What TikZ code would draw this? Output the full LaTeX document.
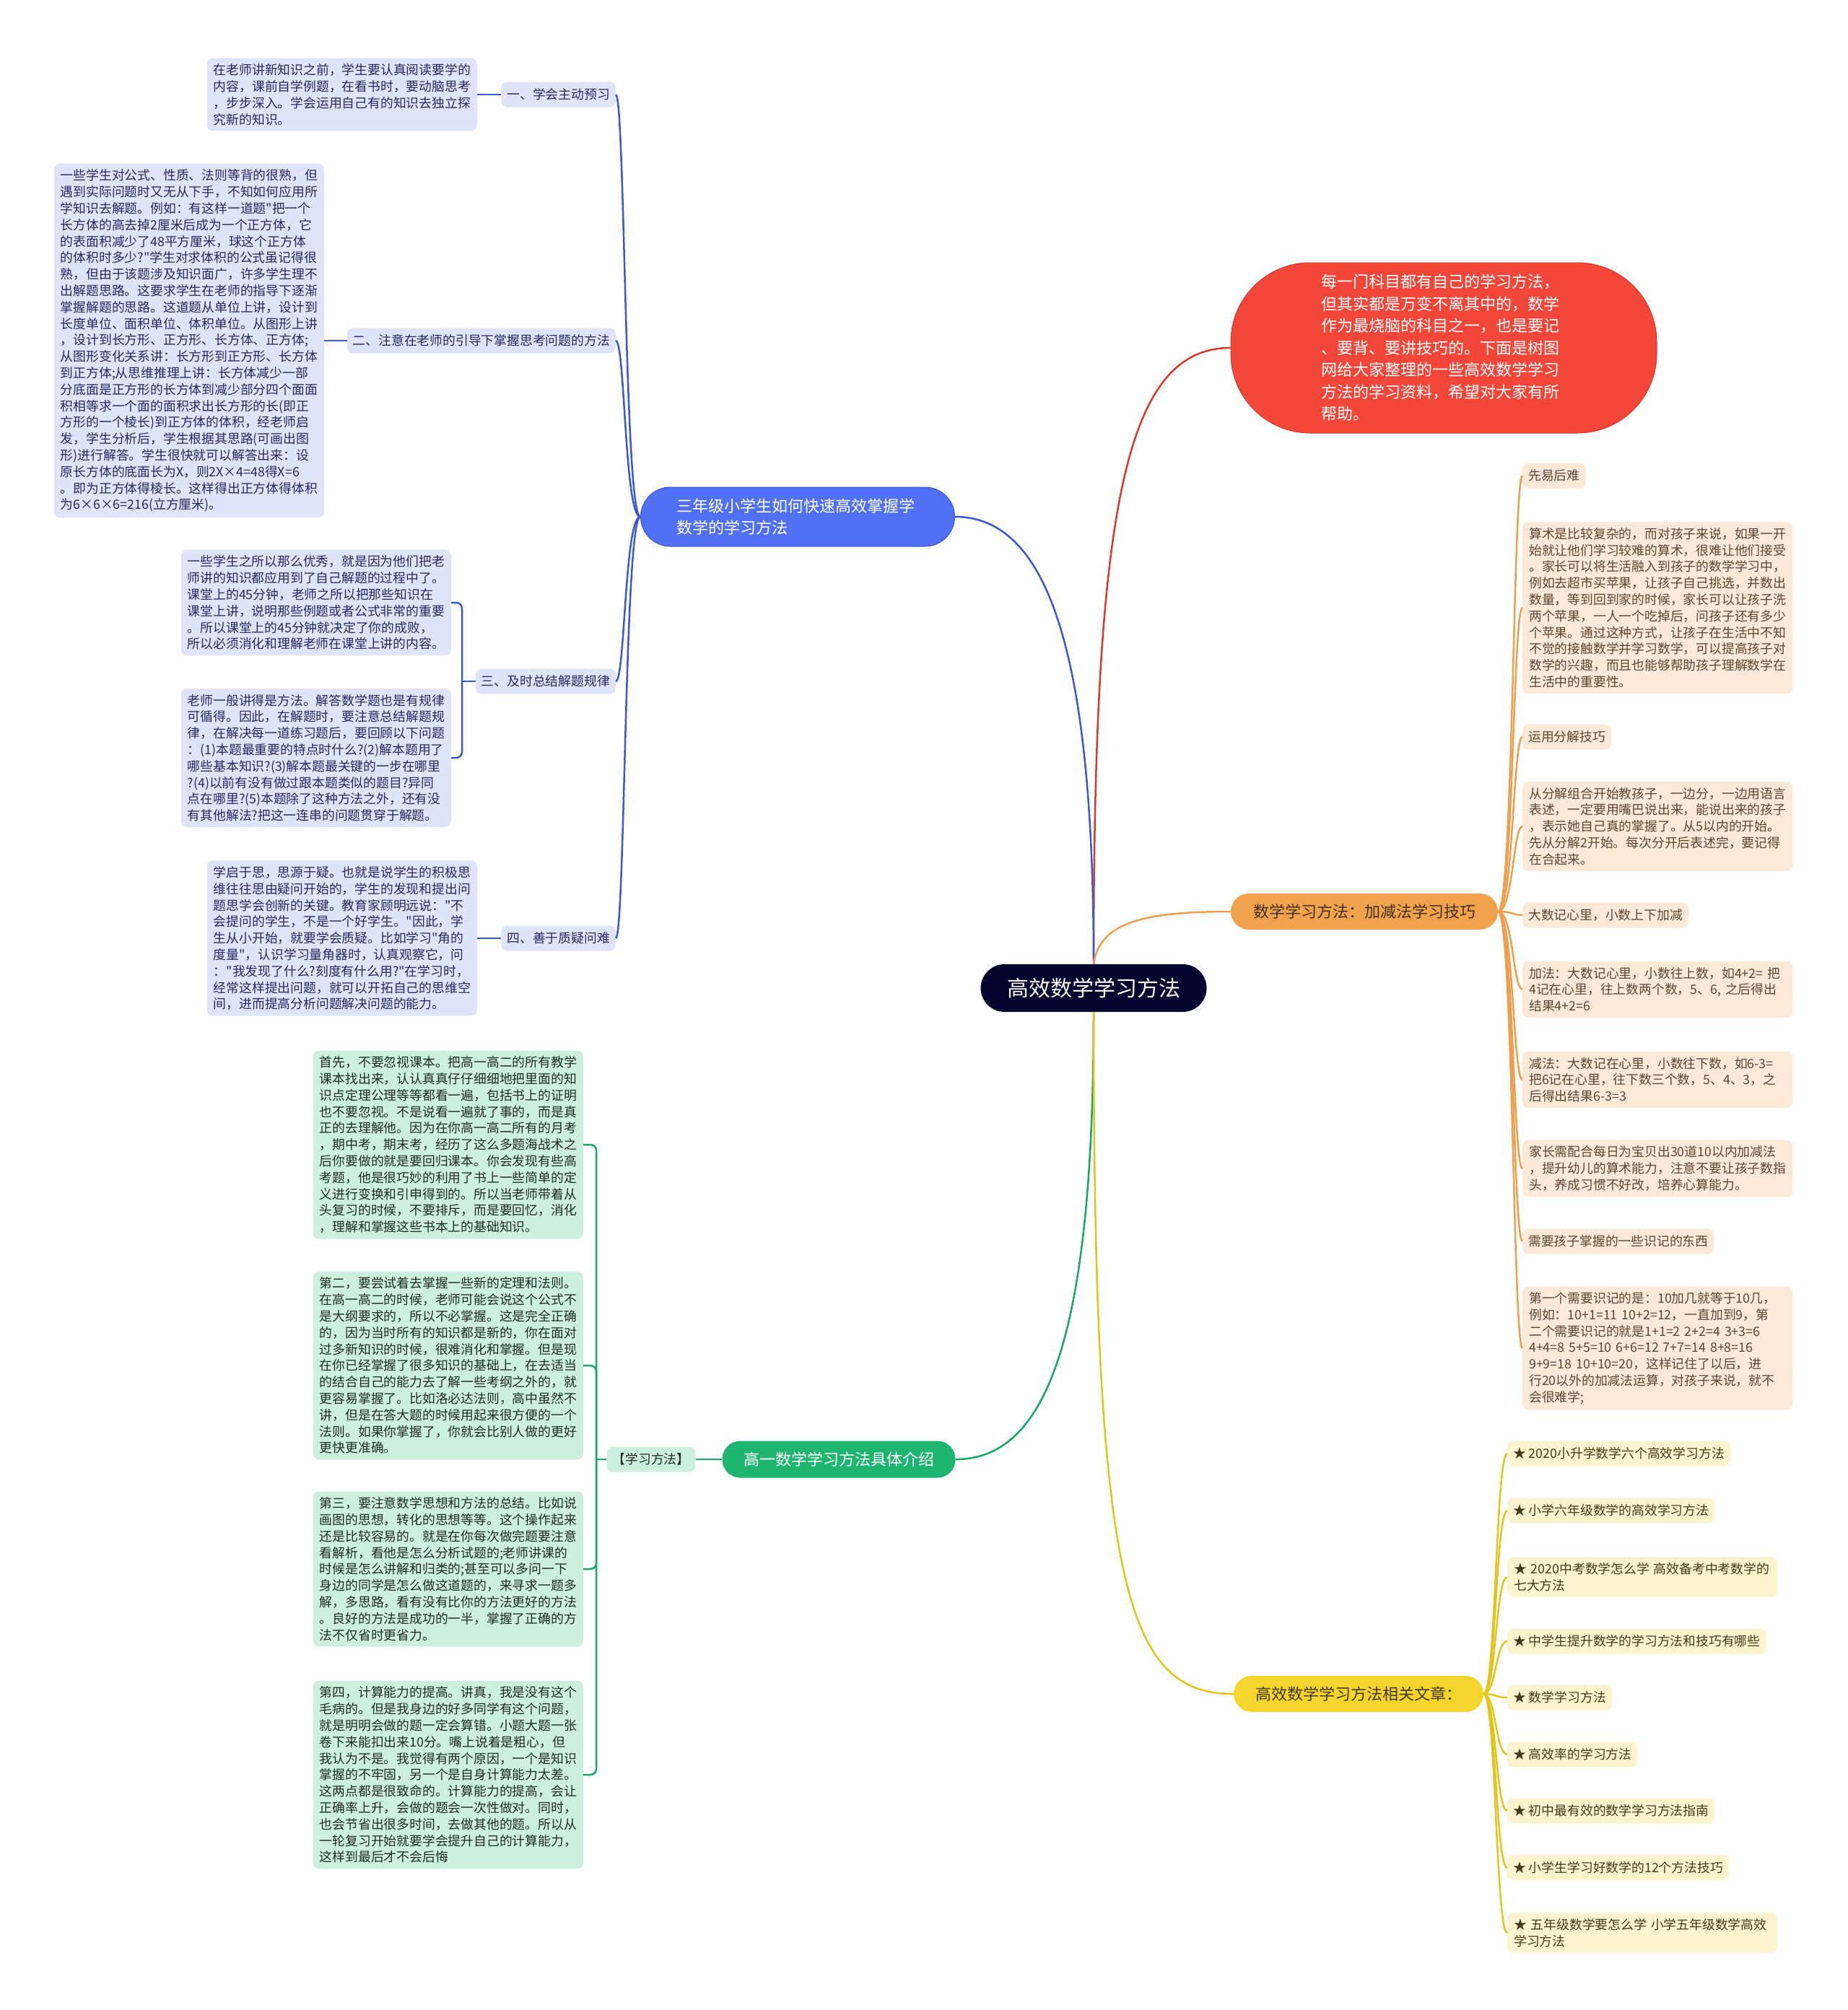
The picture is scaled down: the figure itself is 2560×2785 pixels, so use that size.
\documentclass[tikz,border=0pt]{standalone}
\usepackage{fontspec}
\newfontfamily\cjk{Noto Sans CJK SC}

\definecolor{rootfill}{HTML}{05042E}
\definecolor{redfill}{HTML}{F5463A}
\definecolor{bluefill}{HTML}{5070F5}
\definecolor{greenfill}{HTML}{1DB56F}
\definecolor{orangefill}{HTML}{F2A24C}
\definecolor{yellowfill}{HTML}{F5D42C}
\definecolor{bluesub}{HTML}{DFE4FB}
\definecolor{greensub}{HTML}{CDEFDD}
\definecolor{orangesub}{HTML}{FDE9D7}
\definecolor{yellowsub}{HTML}{FCF4CF}
\definecolor{bluetxt}{HTML}{262A5C}
\definecolor{greentxt}{HTML}{1E2E25}
\definecolor{orangetxt}{HTML}{5E4630}
\definecolor{yellowtxt}{HTML}{433A1C}
\definecolor{blueline}{HTML}{3B58D4}
\definecolor{redline}{HTML}{D9392C}
\definecolor{orangeline}{HTML}{EE9F4E}
\definecolor{greenline}{HTML}{17A865}
\definecolor{yellowline}{HTML}{E3C41B}

\tikzset{
  small/.style={font=\cjk\fontsize{17.8}{22.8}\selectfont},
  para/.style={small, rounded corners=8pt, inner xsep=9pt, inner ysep=8pt, text width=356pt, align=left},
  tag/.style={small, rounded corners=8pt, inner xsep=8pt, inner ysep=0pt, minimum height=35pt},
  topic/.style={font=\cjk\fontsize{22}{30}\selectfont, inner xsep=0pt, inner ysep=0pt},
  root/.style={font=\cjk\fontsize{30}{36}\selectfont, fill=rootfill, text=white, rounded corners=33pt, minimum width=313pt, minimum height=66pt},
  redtopic/.style={topic, fill=redfill, draw=redline, line width=1pt, text=white, rounded corners=110pt, minimum width=590pt, minimum height=236pt, text width=340pt, align=left, font=\cjk\fontsize{22}{30.5}\selectfont},
  bluetopic/.style={topic, fill=bluefill, draw=blueline, line width=1pt, text=white, rounded corners=41pt, minimum width=435pt, minimum height=82pt, text width=335pt, align=left},
  greentopic/.style={topic, fill=greenfill, text=white, rounded corners=25pt, minimum width=323pt, minimum height=51pt},
  orangetopic/.style={topic, fill=orangefill, text=orangetxt!70!black, rounded corners=25pt, minimum width=370pt, minimum height=50pt},
  yellowtopic/.style={topic, fill=yellowfill, text=yellowtxt, rounded corners=25pt, minimum width=346pt, minimum height=50pt},
  bluepara/.style={para, fill=bluesub, text=bluetxt},
  bluetag/.style={tag, fill=bluesub, text=bluetxt},
  greenpara/.style={para, fill=greensub, text=greentxt},
  greentag/.style={tag, fill=greensub, text=greentxt},
  orangepara/.style={para, fill=orangesub, text=orangetxt},
  orangetag/.style={tag, fill=orangesub, text=orangetxt},
  yellowpara/.style={para, fill=yellowsub, text=yellowtxt},
  yellowtag/.style={tag, fill=yellowsub, text=yellowtxt},
  link/.style={line width=2.5pt},
}

\begin{document}
\begin{tikzpicture}[x=1pt,y=-1pt]
\useasboundingbox (0,0) rectangle (2560,2785);

% 中心主题
\node[root] (root) at (1515,1369) {高效数学学习方法};

% 一级分支
\node[redtopic] (intro) at (2000,482) {每一门科目都有自己的学习方法，\\
但其实都是万变不离其中的，数学\\
作为最烧脑的科目之一，也是要记\\
、要背、要讲技巧的。下面是树图\\
网给大家整理的一些高效数学学习\\
方法的学习资料，希望对大家有所\\
帮助。};
\node[bluetopic] (third) at (1105,716) {三年级小学生如何快速高效掌握学\\
数学的学习方法};
\node[orangetopic] (addsub) at (1890,1263) {数学学习方法：加减法学习技巧};
\node[greentopic] (senior) at (1162,2022) {高一数学学习方法具体介绍};
\node[yellowtopic] (related) at (1882,2347) {高效数学学习方法相关文章：};

\draw[link, redline] (root.north) .. controls +(0,-636) and +(-145,0) .. (intro.west);
\draw[link, blueline] (root.north) .. controls +(0,-436) and +(127,0) .. (third.east);
\draw[link, orangeline] (root.north) .. controls +(8,-56) and +(-125,0) .. (addsub.west);
\draw[link, greenline] (root.south) .. controls +(0,448) and +(127,0) .. (senior.east);
\draw[link, yellowline] (root.south) .. controls +(0,798) and +(-149,0) .. (related.west);

% 三年级
\node[bluetag, anchor=east] (b1) at (853,131) {一、学会主动预习};
\node[bluepara, anchor=east] (b1t) at (661,131) {在老师讲新知识之前，学生要认真阅读要学的\\
内容，课前自学例题，在看书时，要动脑思考\\
，步步深入。学会运用自己有的知识去独立探\\
究新的知识。};
\node[bluetag, anchor=east] (b2) at (853,472) {二、注意在老师的引导下掌握思考问题的方法};
\node[bluepara, anchor=east] (b2t) at (449,472) {一些学生对公式、性质、法则等背的很熟，但\\
遇到实际问题时又无从下手，不知如何应用所\\
学知识去解题。例如：有这样一道题"把一个\\
长方体的高去掉2厘米后成为一个正方体，它\\
的表面积减少了48平方厘米，球这个正方体\\
的体积时多少?"学生对求体积的公式虽记得很\\
熟，但由于该题涉及知识面广，许多学生理不\\
出解题思路。这要求学生在老师的指导下逐渐\\
掌握解题的思路。这道题从单位上讲，设计到\\
长度单位、面积单位、体积单位。从图形上讲\\
，设计到长方形、正方形、长方体、正方体;\\
从图形变化关系讲：长方形到正方形、长方体\\
到正方体;从思维推理上讲：长方体减少一部\\
分底面是正方形的长方体到减少部分四个面面\\
积相等求一个面的面积求出长方形的长(即正\\
方形的一个棱长)到正方体的体积，经老师启\\
发，学生分析后，学生根据其思路(可画出图\\
形)进行解答。学生很快就可以解答出来：设\\
原长方体的底面长为X，则2X×4=48得X=6\\
。即为正方体得棱长。这样得出正方体得体积\\
为6×6×6=216(立方厘米)。};
\node[bluetag, anchor=east] (b3) at (853,944) {三、及时总结解题规律};
\node[bluepara, anchor=east] (b3a) at (625,835) {一些学生之所以那么优秀，就是因为他们把老\\
师讲的知识都应用到了自己解题的过程中了。\\
课堂上的45分钟，老师之所以把那些知识在\\
课堂上讲，说明那些例题或者公式非常的重要\\
。所以课堂上的45分钟就决定了你的成败，\\
所以必须消化和理解老师在课堂上讲的内容。};
\node[bluepara, anchor=east] (b3b) at (625,1050) {老师一般讲得是方法。解答数学题也是有规律\\
可循得。因此，在解题时，要注意总结解题规\\
律，在解决每一道练习题后，要回顾以下问题\\
：(1)本题最重要的特点时什么?(2)解本题用了\\
哪些基本知识?(3)解本题最关键的一步在哪里\\
?(4)以前有没有做过跟本题类似的题目?异同\\
点在哪里?(5)本题除了这种方法之外，还有没\\
有其他解法?把这一连串的问题贯穿于解题。};
\node[bluetag, anchor=east] (b4) at (853,1300) {四、善于质疑问难};
\node[bluepara, anchor=east] (b4t) at (661,1300) {学启于思，思源于疑。也就是说学生的积极思\\
维往往思由疑问开始的，学生的发现和提出问\\
题思学会创新的关键。教育家顾明远说："不\\
会提问的学生，不是一个好学生。"因此，学\\
生从小开始，就要学会质疑。比如学习"角的\\
度量"，认识学习量角器时，认真观察它，问\\
："我发现了什么?刻度有什么用?"在学习时，\\
经常这样提出问题，就可以开拓自己的思维空\\
间，进而提高分析问题解决问题的能力。};
\coordinate (b3fork) at (640,944);

\foreach \n in {b1,b2,b3,b4}
  \draw[link, blueline] (third.west) .. controls +(-22,0) and +(13,0) .. (\n.east);
\draw[link, blueline] (b1.west) -- (b1t.east);
\draw[link, blueline] (b2.west) -- (b2t.east);
\draw[link, blueline] (b4.west) -- (b4t.east);
\draw[link, blueline] (b3.west) -- (b3fork);
\draw[link, blueline, rounded corners=8pt] (b3a.east) -| (b3fork) |- (b3b.east);

% 高一
\node[greentag] (method) at (902,2022) {【学习方法】};
\node[greenpara, anchor=east] (g1) at (808,1586) {首先，不要忽视课本。把高一高二的所有教学\\
课本找出来，认认真真仔仔细细地把里面的知\\
识点定理公理等等都看一遍，包括书上的证明\\
也不要忽视。不是说看一遍就了事的，而是真\\
正的去理解他。因为在你高一高二所有的月考\\
，期中考，期末考，经历了这么多题海战术之\\
后你要做的就是要回归课本。你会发现有些高\\
考题，他是很巧妙的利用了书上一些简单的定\\
义进行变换和引申得到的。所以当老师带着从\\
头复习的时候，不要排斥，而是要回忆，消化\\
，理解和掌握这些书本上的基础知识。};
\node[greenpara, anchor=east] (g2) at (808,1892) {第二，要尝试着去掌握一些新的定理和法则。\\
在高一高二的时候，老师可能会说这个公式不\\
是大纲要求的，所以不必掌握。这是完全正确\\
的，因为当时所有的知识都是新的，你在面对\\
过多新知识的时候，很难消化和掌握。但是现\\
在你已经掌握了很多知识的基础上，在去适当\\
的结合自己的能力去了解一些考纲之外的，就\\
更容易掌握了。比如洛必达法则，高中虽然不\\
讲，但是在答大题的时候用起来很方便的一个\\
法则。如果你掌握了，你就会比别人做的更好\\
更快更准确。};
\node[greenpara, anchor=east] (g3) at (808,2174) {第三，要注意数学思想和方法的总结。比如说\\
画图的思想，转化的思想等等。这个操作起来\\
还是比较容易的。就是在你每次做完题要注意\\
看解析，看他是怎么分析试题的;老师讲课的\\
时候是怎么讲解和归类的;甚至可以多问一下\\
身边的同学是怎么做这道题的，来寻求一题多\\
解，多思路，看有没有比你的方法更好的方法\\
。良好的方法是成功的一半，掌握了正确的方\\
法不仅省时更省力。};
\node[greenpara, anchor=east] (g4) at (808,2459) {第四，计算能力的提高。讲真，我是没有这个\\
毛病的。但是我身边的好多同学有这个问题，\\
就是明明会做的题一定会算错。小题大题一张\\
卷下来能扣出来10分。嘴上说着是粗心，但\\
我认为不是。我觉得有两个原因，一个是知识\\
掌握的不牢固，另一个是自身计算能力太差。\\
这两点都是很致命的。计算能力的提高，会让\\
正确率上升，会做的题会一次性做对。同时，\\
也会节省出很多时间，去做其他的题。所以从\\
一轮复习开始就要学会提升自己的计算能力，\\
这样到最后才不会后悔};
\coordinate (gfork) at (826,2022);

\draw[link, greenline] (senior.west) -- (method.east);
\draw[link, greenline] (method.west) -- (gfork);
\foreach \n in {g1,g2,g3,g4}
  \draw[link, greenline, rounded corners=8pt] (gfork) |- (\n.east);

% 加减法
\node[orangetag, anchor=west] (o1) at (2109,659) {先易后难};
\node[orangepara, anchor=west] (o2) at (2109,842) {算术是比较复杂的，而对孩子来说，如果一开\\
始就让他们学习较难的算术，很难让他们接受\\
。家长可以将生活融入到孩子的数学学习中，\\
例如去超市买苹果，让孩子自己挑选，并数出\\
数量，等到回到家的时候，家长可以让孩子洗\\
两个苹果，一人一个吃掉后，问孩子还有多少\\
个苹果。通过这种方式，让孩子在生活中不知\\
不觉的接触数学并学习数学，可以提高孩子对\\
数学的兴趣，而且也能够帮助孩子理解数学在\\
生活中的重要性。};
\node[orangetag, anchor=west] (o3) at (2109,1021) {运用分解技巧};
\node[orangepara, anchor=west] (o4) at (2109,1145) {从分解组合开始教孩子，一边分，一边用语言\\
表述，一定要用嘴巴说出来，能说出来的孩子\\
，表示她自己真的掌握了。从5以内的开始。\\
先从分解2开始。每次分开后表述完，要记得\\
在合起来。};
\node[orangetag, anchor=west] (o5) at (2109,1268) {大数记心里，小数上下加减};
\node[orangepara, anchor=west] (o6) at (2109,1371) {加法：大数记心里，小数往上数，如4+2= 把\\
4记在心里，往上数两个数，5、6, 之后得出\\
结果4+2=6};
\node[orangepara, anchor=west] (o7) at (2109,1496) {减法：大数记在心里，小数往下数，如6-3=\\
把6记在心里，往下数三个数，5、4、3，之\\
后得出结果6-3=3};
\node[orangepara, anchor=west] (o8) at (2109,1619) {家长需配合每日为宝贝出30道10以内加减法\\
，提升幼儿的算术能力，注意不要让孩子数指\\
头，养成习惯不好改，培养心算能力。};
\node[orangetag, anchor=west] (o9) at (2109,1720) {需要孩子掌握的一些识记的东西};
\node[orangepara, anchor=west] (o10) at (2109,1868) {第一个需要识记的是：10加几就等于10几，\\
例如：10+1=11 10+2=12，一直加到9，第\\
二个需要识记的就是1+1=2 2+2=4 3+3=6\\
4+4=8 5+5=10 6+6=12 7+7=14 8+8=16\\
9+9=18 10+10=20，这样记住了以后，进\\
行20以外的加减法运算，对孩子来说，就不\\
会很难学;};

\foreach \i in {1,...,10}
  \draw[link, orangeline] (addsub.east) .. controls +(21,0) and +(-13,0) .. (o\i.west);

% 相关文章
\node[yellowtag, anchor=west] (y1) at (2088,2014) {★ 2020小升学数学六个高效学习方法};
\node[yellowtag, anchor=west] (y2) at (2088,2093) {★ 小学六年级数学的高效学习方法};
\node[yellowpara, anchor=west] (y3) at (2088,2185) {★ 2020中考数学怎么学 高效备考中考数学的\\
七大方法};
\node[yellowtag, anchor=west] (y4) at (2088,2274) {★ 中学生提升数学的学习方法和技巧有哪些};
\node[yellowtag, anchor=west] (y5) at (2088,2352) {★ 数学学习方法};
\node[yellowtag, anchor=west] (y6) at (2088,2431) {★ 高效率的学习方法};
\node[yellowtag, anchor=west] (y7) at (2088,2509) {★ 初中最有效的数学学习方法指南};
\node[yellowtag, anchor=west] (y8) at (2088,2588) {★ 小学生学习好数学的12个方法技巧};
\node[yellowpara, anchor=west] (y9) at (2088,2678) {★ 五年级数学要怎么学 小学五年级数学高效\\
学习方法};

\foreach \i in {1,...,9}
  \draw[link, yellowline] (related.east) .. controls +(17,0) and +(-16,0) .. (y\i.west);

\end{tikzpicture}
\end{document}
